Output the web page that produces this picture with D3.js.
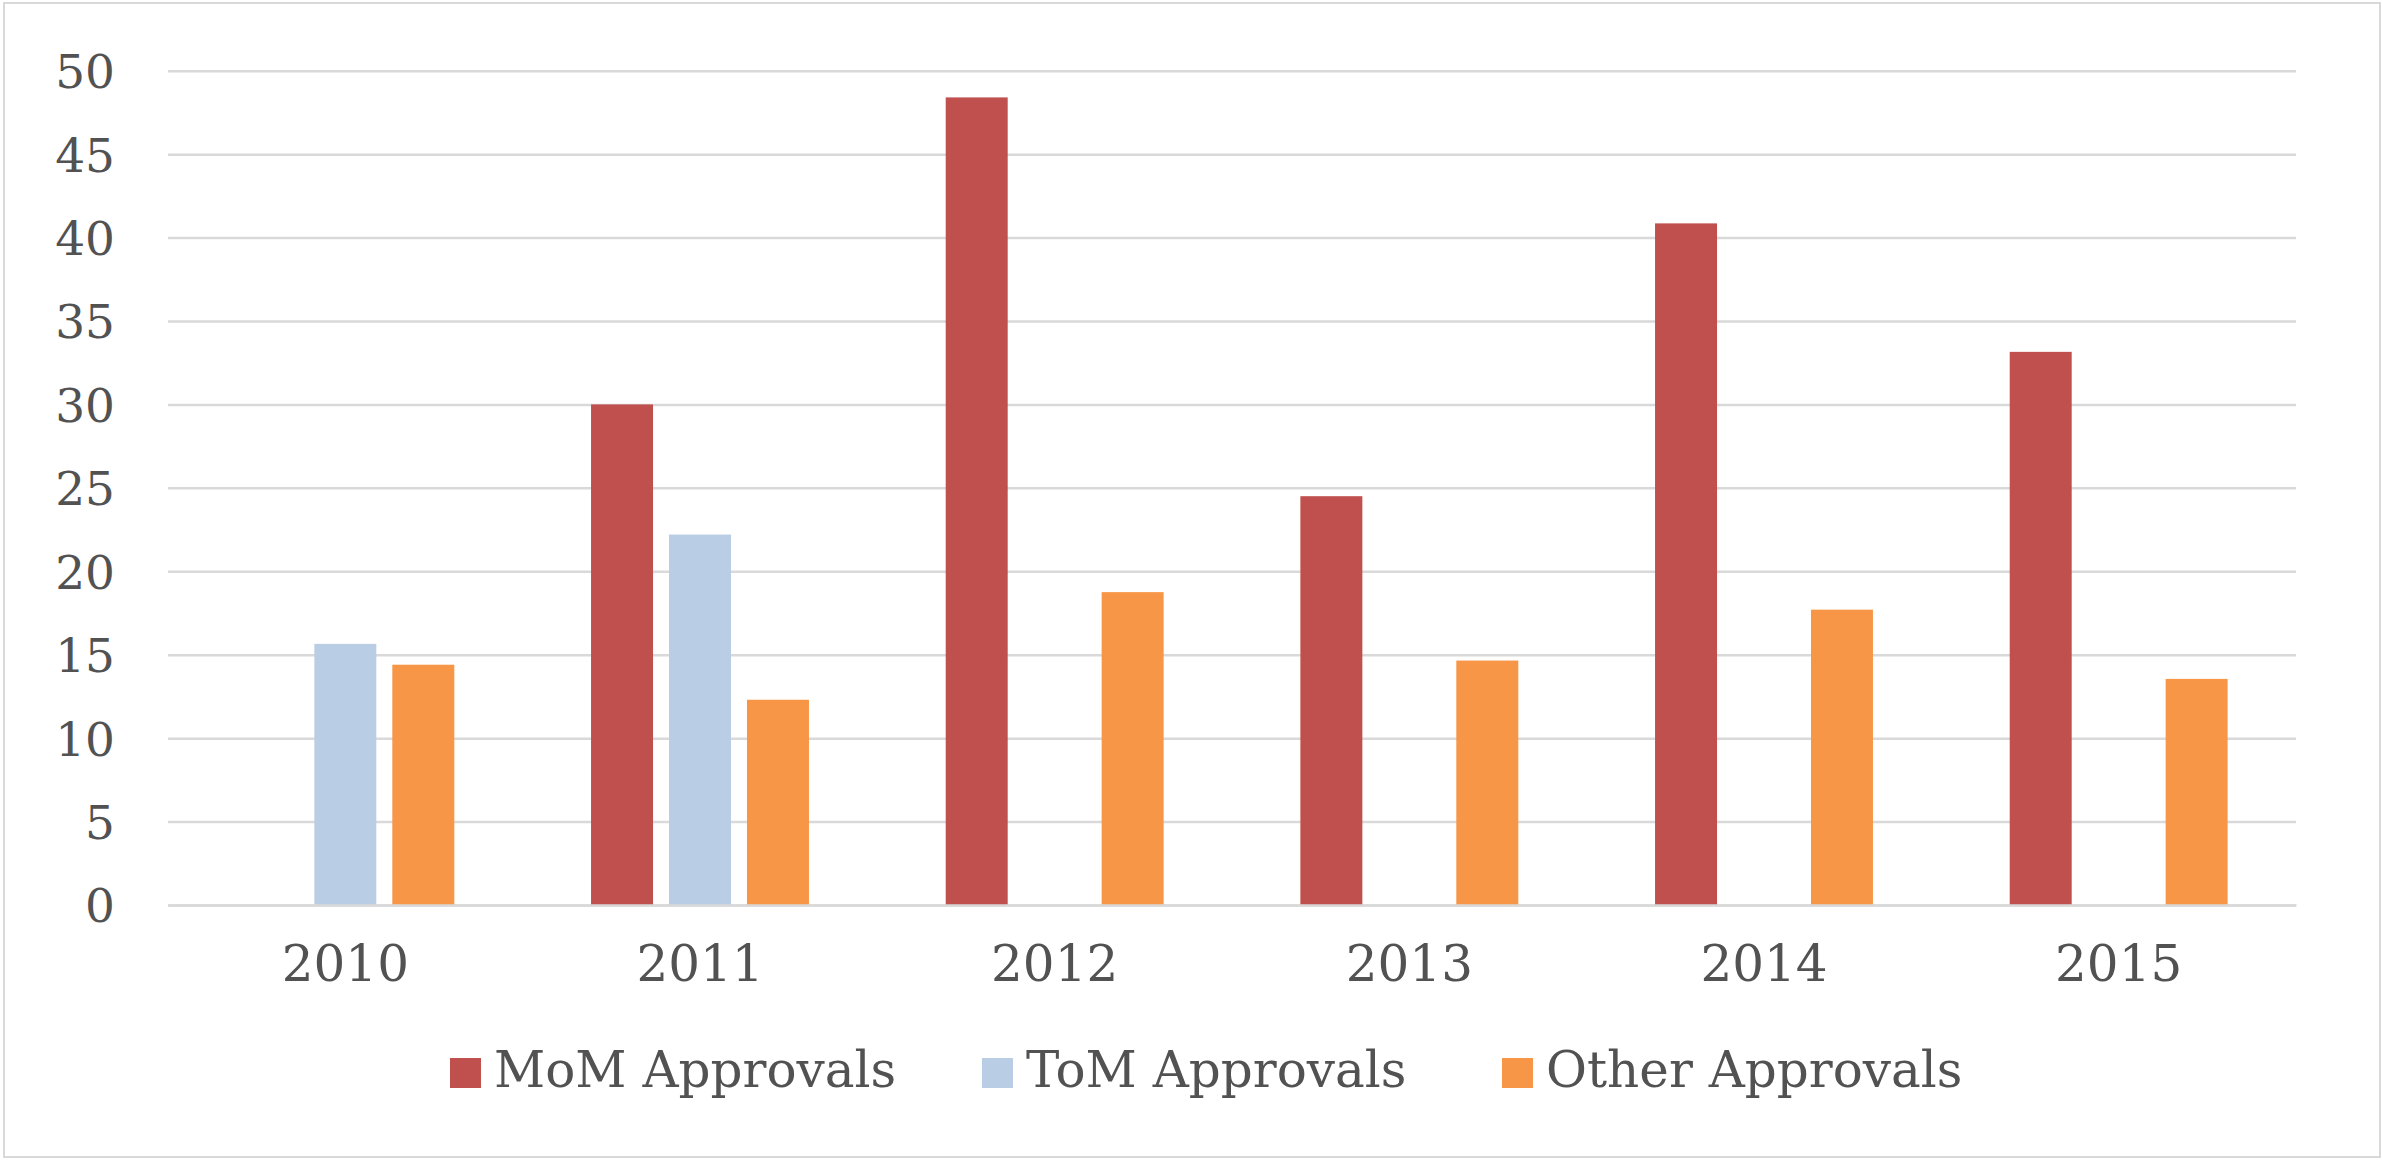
<!DOCTYPE html>
<html>
<head>
<meta charset="utf-8">
<script src="https://cdn.jsdelivr.net/npm/d3@7"></script>
<style>
  body { margin: 0; background: #fff; }
  text { font-family: "DejaVu Serif", "Liberation Serif", serif; fill: #525252; }
</style>
</head>
<body>
<script>
// data
var years = ["2010", "2011", "2012", "2013", "2014", "2015"];
var seriesNames = ["MoM Approvals", "ToM Approvals", "Other Approvals"];
var momValues = [0, 30.0, 48.4, 24.5, 40.85, 33.15];
var tomValues = [15.65, 22.2, 0, 0, 0, 0];
var otherValues = [14.4, 12.3, 18.75, 14.65, 17.7, 13.55];
var yTicks = [0, 5, 10, 15, 20, 25, 30, 35, 40, 45, 50];
var colors = ["#C0504D", "#B9CDE5", "#F79646"];

var svg = d3.select("body").append("svg").attr("width", 2382).attr("height", 1161),
    margin = {top: 70.7, right: 86, bottom: 256, left: 168},
    width = +svg.attr("width") - margin.left - margin.right,
    height = +svg.attr("height") - margin.top - margin.bottom;

// outer frame
svg.append("rect")
    .attr("x", 4).attr("y", 3)
    .attr("width", 2376).attr("height", 1154)
    .attr("fill", "#fff")
    .attr("stroke", "#D9D9D9")
    .attr("stroke-width", 2);

var g = svg.append("g").attr("transform", "translate(" + margin.left + "," + margin.top + ")");

var table = years.map(function(yr, i) {
  return {year: yr, values: [momValues[i], tomValues[i], otherValues[i]]};
});

var x0 = d3.scaleBand().domain(years).range([0, width]).padding(0);
var x1 = d3.scaleBand().domain(seriesNames).range([0, x0.bandwidth()])
    .paddingInner(0.205).paddingOuter(0.877);
var y = d3.scaleLinear().domain([0, 50]).range([height, 0]);
var z = d3.scaleOrdinal().domain(seriesNames).range(colors);

// gridlines + y labels
var yAxis = g.append("g")
    .call(d3.axisLeft(y).tickValues(yTicks).tickSize(-width).tickPadding(53).tickFormat(d3.format("d")));
yAxis.select(".domain").remove();
yAxis.selectAll(".tick line").attr("stroke", "#D9D9D9").attr("stroke-width", 2.5);
yAxis.selectAll(".tick text")
    .attr("font-family", "DejaVu Serif")
    .attr("font-size", 47)
    .attr("fill", "#525252")
    .attr("dy", "0.36em");

// bars
g.append("g")
  .selectAll("g")
  .data(table)
  .enter().append("g")
    .attr("transform", function(d) { return "translate(" + x0(d.year) + ",0)"; })
  .selectAll("rect")
  .data(function(d) { return d.values.map(function(v, k) { return {key: seriesNames[k], value: v}; }); })
  .enter().append("rect")
    .attr("x", function(d) { return x1(d.key); })
    .attr("y", function(d) { return y(d.value); })
    .attr("width", x1.bandwidth())
    .attr("height", function(d) { return height - y(d.value); })
    .attr("fill", function(d) { return z(d.key); });

// x axis
var xAxis = g.append("g")
    .attr("transform", "translate(0," + height + ")")
    .call(d3.axisBottom(x0).tickSize(0).tickPadding(40));
xAxis.select(".domain").attr("stroke", "#D9D9D9").attr("stroke-width", 2.5);
xAxis.selectAll(".tick text")
    .attr("font-family", "DejaVu Serif")
    .attr("font-size", 50)
    .attr("fill", "#525252");

// legend
var legendX = [450, 982, 1502];
var legend = svg.append("g")
  .selectAll("g")
  .data(seriesNames)
  .enter().append("g")
    .attr("transform", function(d, i) { return "translate(" + legendX[i] + ",1058)"; });

legend.append("rect")
    .attr("width", 31)
    .attr("height", 30)
    .attr("fill", z);

legend.append("text")
    .attr("x", 44)
    .attr("y", 29)
    .attr("font-size", 50)
    .text(function(d) { return d; });
</script>
</body>
</html>
